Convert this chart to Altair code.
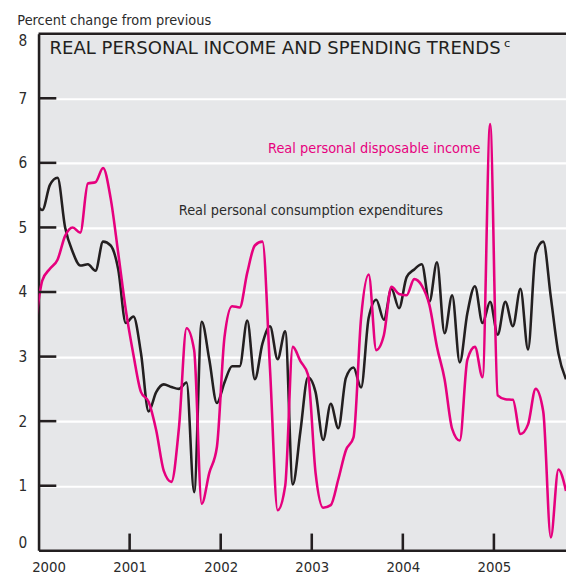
import altair as alt
import pandas as pd

months = list(range(-1, 70))

pce = [5.40, 5.27, 5.66, 5.77, 5.00, 4.62, 4.41, 4.43, 4.33, 4.78, 4.72, 4.35,
       3.52, 3.62, 3.05, 2.15, 2.45, 2.57, 2.53, 2.50, 2.60, 0.90, 3.54, 2.95,
       2.28, 2.60, 2.85, 2.85, 3.56, 2.65, 3.20, 3.47, 2.96, 3.39, 1.02, 1.84,
       2.68, 2.45, 1.71, 2.27, 1.89, 2.67, 2.83, 2.52, 3.60, 3.88, 3.57, 4.05,
       3.75, 4.23, 4.35, 4.43, 3.85, 4.46, 3.36, 3.95, 2.91, 3.67, 4.09, 3.52,
       3.85, 3.34, 3.85, 3.47, 4.05, 3.11, 4.60, 4.78, 3.92, 3.05, 2.65]

dpi = [3.40, 4.18, 4.36, 4.50, 4.87, 5.00, 4.92, 5.68, 5.70, 5.92, 5.45, 4.60,
       3.72, 3.03, 2.45, 2.30, 1.86, 1.23, 1.06, 1.90, 3.44, 3.10, 0.72, 1.20,
       1.60, 3.30, 3.78, 3.76, 4.30, 4.72, 4.78, 2.80, 0.62, 1.00, 3.15, 2.93,
       2.72, 1.20, 0.66, 0.70, 1.10, 1.55, 1.75, 3.60, 4.27, 3.10, 3.33, 4.08,
       3.97, 3.95, 4.20, 4.10, 3.80, 3.15, 2.65, 1.88, 1.70, 2.95, 3.15, 2.68,
       6.60, 2.40, 2.34, 2.33, 1.80, 1.95, 2.50, 2.15, 0.20, 1.25, 0.92]

year_ticks = [2000, 2001, 2002, 2003, 2004, 2005]
inner_year_ticks = [2001, 2002, 2003, 2004, 2005]
y_ticks = [0, 1, 2, 3, 4, 5, 6, 7, 8]
inner_y_ticks = [1, 2, 3, 4, 5, 6, 7]

labels_text = ["Real personal disposable income", "Real personal consumption expenditures"]
labels_x = [2002.52, 2001.54]
labels_y = [6.16, 5.20]
labels_color = ["#e6007e", "#2b2b2b"]

title_text = "REAL PERSONAL INCOME AND SPENDING TRENDS"
title_x = 2000.12
title_y = 7.68
sup_x = 2005.11
sup_y = 7.80

W, H = 535, 524
DARK = "#231f20"
PINK = "#e6007e"
NARROW = "DejaVu Sans Condensed, sans-serif"
TITLEFONT = "DejaVu Sans, sans-serif"

years = [2000 + (m + 0.5) / 12 for m in months]
df_pce = pd.DataFrame({"year": years, "value": pce})
df_dpi = pd.DataFrame({"year": years, "value": dpi})

x_scale = alt.Scale(domain=[2000, 2000 + 69.5 / 12], nice=False, zero=False)
y_scale = alt.Scale(domain=[0, 8], nice=False, zero=False)

x_axis = alt.Axis(values=year_ticks, format="d", title=None, grid=False, ticks=False,
                  domainColor=DARK, domainWidth=2.6, labelFlush=True, labelFlushOffset=7,
                  labelFont=NARROW, labelFontSize=15, labelColor="#2b2b2b", labelPadding=10)
y_axis = alt.Axis(values=y_ticks, format="d", grid=True, gridColor="white", gridWidth=2.2,
                  ticks=False, domainColor=DARK, domainWidth=2.6, labelFlush=True,
                  labelFont=NARROW, labelFontSize=15.5, labelColor="#2b2b2b", labelPadding=12,
                  title="Percent change from previous", titleAngle=0, titleX=-22, titleY=-9,
                  titleAlign="left", titleBaseline="alphabetic", titleFont=NARROW,
                  titleFontSize=14.6, titleFontWeight="normal", titleColor="#2b2b2b")

X = alt.X("year:Q", scale=x_scale, axis=x_axis)
Y = alt.Y("value:Q", scale=y_scale, axis=y_axis)

black_line = alt.Chart(df_pce).mark_line(
    interpolate="monotone", strokeWidth=2.6, color=DARK, clip=True
).encode(x=X, y=Y)

pink_line = alt.Chart(df_dpi).mark_line(
    interpolate="monotone", strokeWidth=2.6, color=PINK, clip=True
).encode(x=X, y=Y)

ytick_layer = alt.Chart(pd.DataFrame({"value": inner_y_ticks})).mark_rule(
    color=DARK, strokeWidth=2.6
).encode(y=Y, x=alt.value(0), x2=alt.value(18))

xtick_layer = alt.Chart(pd.DataFrame({"year": inner_year_ticks})).mark_rule(
    color=DARK, strokeWidth=2.6
).encode(x=X, y=alt.datum(0), y2=alt.datum(17 / 65.5))

top_border = alt.Chart(pd.DataFrame({"value": [8]})).mark_rule(
    color=DARK, strokeWidth=2.6
).encode(y=Y)

lab_df = pd.DataFrame({"year": labels_x, "value": labels_y, "t": labels_text, "c": labels_color})
series_labels = alt.Chart(lab_df).mark_text(
    align="left", baseline="alphabetic", font=NARROW, fontSize=14.6
).encode(x=X, y=Y, text="t:N", color=alt.Color("c:N", scale=None))

title_df = pd.DataFrame({"year": [title_x], "value": [title_y], "t": [title_text]})
title_layer = alt.Chart(title_df).mark_text(
    align="left", baseline="alphabetic", font=TITLEFONT, fontSize=18.3, color=DARK
).encode(x=X, y=Y, text="t:N")

sup_df = pd.DataFrame({"year": [sup_x], "value": [sup_y], "t": ["c"]})
sup_layer = alt.Chart(sup_df).mark_text(
    align="left", baseline="alphabetic", font=TITLEFONT, fontSize=11.5, color=DARK
).encode(x=X, y=Y, text="t:N")

chart = alt.layer(
    black_line, pink_line, ytick_layer, xtick_layer, top_border,
    series_labels, title_layer, sup_layer
).properties(
    width=W, height=H,
    background="white",
    autosize=alt.AutoSizeParams(type="none"),
    padding={"left": 31, "top": 22, "right": 0, "bottom": 24},
).configure_view(stroke=None, fill="#e6e7e9")

chart.save("out.html", embed_options={"renderer": "svg", "actions": False})
